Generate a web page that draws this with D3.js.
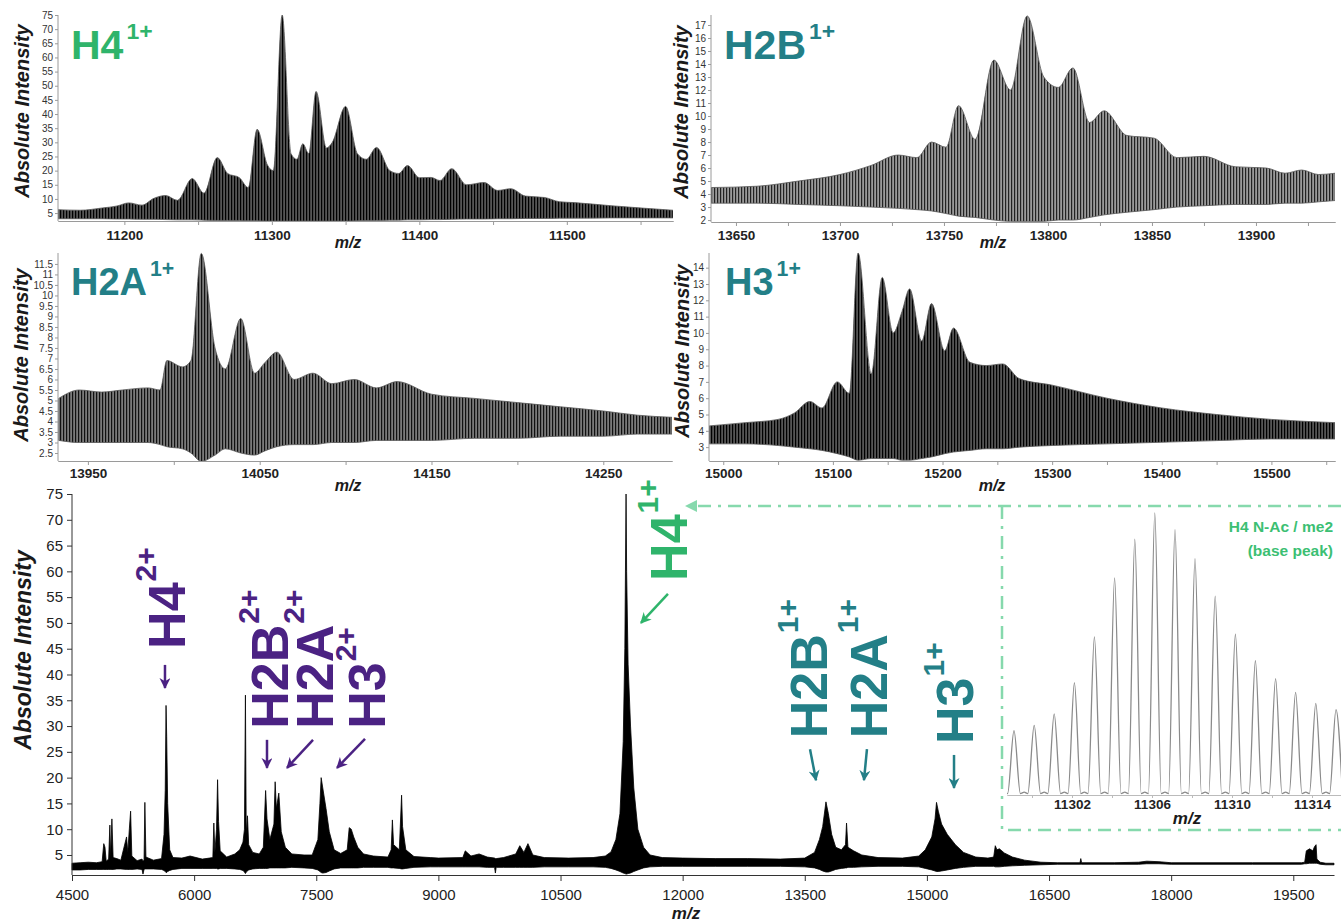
<!DOCTYPE html>
<html>
<head>
<meta charset="utf-8">
<script src="https://cdnjs.cloudflare.com/ajax/libs/d3/7.8.5/d3.min.js"></script>
<style>
  body { margin: 0; background: #fff; }
  text { font-family: "Liberation Sans", Arial, sans-serif; }
</style>
</head>
<body>
<script>
// ---- data: spectrum envelopes [m/z, upper intensity, lower intensity] ----
var h4Env = [
  [11155,6.2,3.0],[11170,6.0,3.0],[11185,6.8,3.0],[11195,7.5,2.9],[11203,8.6,2.9],[11212,7.8,2.8],
  [11220,10.2,2.8],[11228,11.2,2.7],[11236,9.5,2.6],[11246,17.2,2.6],[11254,12.0,2.5],[11263,24.6,2.4],
  [11270,19,2.4],[11278,17.5,2.4],[11284,14,2.3],[11290,34.6,2.3],[11297,22,2.2],[11301,20,2.2],
  [11307,75,2.2],[11313,26,2.2],[11317,24,2.2],[11321,29.5,2.2],[11325,26,2.2],[11330,48,2.2],
  [11337,28,2.2],[11341,30,2.2],[11350,42.7,2.2],[11358,26,2.3],[11364,24,2.4],[11371,28.2,2.4],
  [11380,20,2.5],[11386,19,2.5],[11392,21.8,2.6],[11400,17.5,2.6],[11408,17.6,2.7],[11414,16.5,2.7],
  [11422,20.7,2.8],[11432,15,2.9],[11444,15.8,2.9],[11453,13,3.0],[11462,13.6,3.0],[11472,11,3.1],
  [11485,10.5,3.1],[11495,9,3.2],[11505,8.7,3.2],[11530,7.6,3.3],[11572,6.0,3.3]
];
var h2bEnv = [
  [13638,4.5,3.3],[13660,4.6,3.3],[13680,5.0,3.2],[13700,5.5,3.1],[13715,6.2,3.0],[13728,7.0,2.9],
  [13737,6.8,2.8],[13744,8.0,2.7],[13751,7.6,2.5],[13757,10.8,2.3],[13765,8.2,2.2],[13774,14.3,2.0],
  [13782,12,1.9],[13790,17.7,1.9],[13798,13,1.9],[13805,12.2,2.0],[13812,13.7,2.0],[13820,9.5,2.2],
  [13827,10.4,2.4],[13838,8.5,2.6],[13851,8.3,2.8],[13862,6.8,3.0],[13875,6.9,3.1],[13890,6.1,3.2],
  [13905,6.0,3.2],[13914,5.6,3.3],[13922,5.85,3.3],[13930,5.5,3.4],[13938,5.6,3.5]
];
var h2aEnv = [
  [13933,5.1,3.1],[13945,5.5,3.0],[13958,5.4,3.0],[13970,5.5,3.0],[13985,5.6,3.0],[13992,5.5,2.9],
  [13996,6.9,2.8],[14005,6.6,2.7],[14010,6.9,2.5],[14016,12.0,2.1],[14024,7.5,2.4],[14030,6.5,2.7],
  [14039,8.9,2.5],[14047,6.3,2.4],[14053,6.8,2.6],[14060,7.3,2.8],[14070,6.0,2.9],[14081,6.3,2.9],
  [14092,5.8,3.0],[14105,6.0,3.0],[14118,5.6,3.1],[14130,5.9,3.1],[14150,5.3,3.1],[14175,5.1,3.2],
  [14200,4.9,3.2],[14225,4.7,3.3],[14250,4.5,3.3],[14270,4.3,3.4],[14290,4.2,3.4]
];
var h3Env = [
  [14987,4.3,3.2],[15020,4.5,3.2],[15050,4.7,3.1],[15065,5.1,3.0],[15079,5.8,2.9],[15090,5.4,2.8],
  [15104,7.0,2.6],[15115,6.3,2.4],[15123,14.9,2.2],[15135,7.5,2.3],[15145,13.4,2.3],[15155,10,2.3],
  [15163,11.3,2.2],[15170,12.7,2.2],[15181,9.5,2.3],[15190,11.8,2.4],[15202,8.9,2.6],[15210,10.3,2.7],
  [15225,8.2,2.8],[15240,8.0,2.9],[15255,8.1,2.9],[15270,7.2,3.0],[15300,6.8,3.1],[15350,6.0,3.2],
  [15400,5.4,3.3],[15450,5.0,3.4],[15500,4.7,3.5],[15558,4.5,3.5]
];
var mainEnv = [
  [4500,3.4,2.1],[4600,3.5,2.1],[4700,3.6,2.2],[4800,3.5,2.2],[4870,3.7,2.2],[4890,7.2,2.2],[4905,6.5,2.2],
  [4920,3.8,2.2],[4950,4.2,2.2],[4965,10.8,2.2],[4975,4.5,2.2],[4990,12,2.2],[5005,4.5,2.2],[5050,4.3,2.3],
  [5100,4.0,2.3],[5170,8.5,2.2],[5185,5.5,2.2],[5205,10.2,2.2],[5220,13.5,2.2],[5235,4.8,2.2],[5300,3.9,2.3],
  [5360,4.2,2.2],[5372,3.8,1.3],[5385,4.0,2.2],[5395,15.2,2.3],[5408,4.6,2.3],[5500,4.0,2.3],[5600,4.3,2.2],
  [5630,9,2.0],[5645,17.5,1.8],[5655,34,1.6],[5663,28,1.6],[5675,15,1.8],[5700,6,2.0],[5740,4.5,2.2],
  [5850,4.4,2.4],[5950,4.8,2.4],[6100,4.2,2.4],[6230,4.5,2.4],[6242,11.2,2.4],[6255,5.5,2.4],[6275,10,2.4],
  [6288,19.6,2.3],[6300,11.5,2.3],[6320,5.8,2.4],[6400,4.6,2.4],[6500,5.2,2.3],[6560,6,2.2],[6600,7.5,2.0],
  [6618,10,1.7],[6630,36,1.4],[6640,9,1.7],[6655,12.6,1.9],[6670,7,2.1],[6720,5.5,2.3],[6800,5.2,2.4],
  [6850,6.5,2.4],[6878,17.5,2.4],[6895,12,2.4],[6930,8,2.5],[6980,11,2.5],[6995,19.2,2.5],[7010,14,2.5],
  [7040,17,2.5],[7070,9.5,2.5],[7120,6.5,2.5],[7200,5.2,2.6],[7350,5.0,2.5],[7450,5.0,2.4],[7520,8,2.1],
  [7545,15,1.8],[7560,20,1.6],[7580,18,1.5],[7620,14,1.6],[7660,9.5,1.9],[7720,6,2.3],[7800,5.3,2.5],
  [7880,6,2.5],[7905,10.3,2.5],[7930,10,2.5],[7960,8.5,2.5],[8010,6.5,2.5],[8080,5.2,2.6],[8200,4.8,2.6],
  [8380,4.6,2.6],[8420,6,2.5],[8435,11.8,2.5],[8450,7,2.5],[8520,6,2.4],[8548,16.6,2.3],[8560,10.5,2.3],
  [8600,6,2.4],[8700,4.7,2.6],[8900,4.5,2.7],[9000,4.4,2.7],[9300,4.5,2.7],[9330,5.8,2.7],[9400,4.8,2.7],
  [9500,5.2,2.7],[9600,4.6,2.6],[9690,4.4,2.6],[9700,4.3,1.5],[9710,4.3,2.6],[9800,4.5,2.6],[9950,5.2,2.6],
  [10000,6.8,2.6],[10050,5.5,2.6],[10100,7.2,2.6],[10160,5,2.6],[10300,4.5,2.7],[10600,4.4,2.7],
  [10900,4.5,2.7],[11050,4.8,2.6],[11120,5.6,2.4],[11180,8,2.1],[11230,13,1.8],[11270,27,1.5],[11290,45,1.4],
  [11305,75,1.3],[11312,60,1.3],[11330,42,1.4],[11360,30,1.5],[11400,18,1.8],[11450,10,2.1],[11520,6.5,2.5],
  [11600,5,2.7],[11750,4.5,2.8],[12000,4.4,2.8],[12400,4.3,2.8],[12800,4.3,2.8],[13200,4.2,2.8],
  [13500,4.4,2.7],[13620,5.5,2.5],[13680,8,2.2],[13720,10.5,1.9],[13760,15.3,1.7],[13790,13,1.7],
  [13830,9,1.9],[13880,6.5,2.2],[13950,6,2.4],[14000,7,2.5],[14013,11.2,2.5],[14030,6.5,2.6],[14100,5.8,2.6],
  [14200,5,2.7],[14400,4.5,2.8],[14700,4.4,2.8],[14900,4.8,2.7],[14980,6,2.4],[15060,8.5,2.1],[15100,12,1.9],
  [15118,15.2,1.8],[15140,13.5,1.8],[15180,11,1.9],[15250,9,2.1],[15350,7,2.4],[15450,5.5,2.6],[15600,4.6,2.8],
  [15750,4.4,2.8],[15820,4.6,2.8],[15840,6.8,2.7],[15860,6,2.7],[15890,6.2,2.7],[15950,5.4,2.8],[16050,4.6,2.9],
  [16200,4.0,3.0],[16400,3.6,3.1],[16600,3.5,3.2],[16880,3.5,3.2],[16890,4.3,3.2],[16900,3.5,3.2],
  [17300,3.5,3.2],[17600,3.6,3.2],[17700,3.8,3.3],[17850,3.7,3.3],[18000,3.5,3.2],[19000,3.5,3.2],
  [19600,3.5,3.2],[19640,3.6,3.3],[19660,5.8,3.3],[19700,6.2,3.4],[19740,5.8,3.4],[19760,6.6,3.4],
  [19780,7.0,3.4],[19790,4.2,3.4],[19830,3.6,3.2],[19900,3.4,3.1],[20000,3.4,3.1]
];
// isotope peaks of the H4 base peak (inset)
var isoMz = [11299.10,11300.11,11301.11,11302.12,11303.12,11304.13,11305.14,11306.14,11307.15,
             11308.15,11309.16,11310.17,11311.17,11312.18,11313.18,11314.19,11315.20];
var isoInt = [22.8,24.7,28.8,39.8,56.1,77.0,90.7,100,94.1,83.8,70.5,57.0,47.6,41.3,36.4,32.5,30.3];

// tick values
var mainXTicks = [4500,6000,7500,9000,10500,12000,13500,15000,16500,18000,19500];
var mainYTicks = [5,10,15,20,25,30,35,40,45,50,55,60,65,70,75];
var h4YTicks = mainYTicks;
var h4XTicks = [11200,11300,11400,11500];
var h4XMinor = [11250,11350,11450,11550];
var h2bYTicks = [2,3,4,5,6,7,8,9,10,11,12,13,14,15,16,17];
var h2bXTicks = [13650,13700,13750,13800,13850,13900];
var h2bXMinor = [13675,13725,13775,13825,13875,13925];
var h2aYTicks = [2.5,3,3.5,4,4.5,5,5.5,6,6.5,7,7.5,8,8.5,9,9.5,10,10.5,11,11.5];
var h2aXTicks = [13950,14050,14150,14250];
var h2aXMinor = [14000,14100,14200];
var h3YTicks = [3,4,5,6,7,8,9,10,11,12,13,14];
var h3XTicks = [15000,15100,15200,15300,15400,15500];
var h3XMinor = [15050,15150,15250,15350,15450,15550];
var isoXTicks = [11302,11306,11310,11314];
var isoXMinor = [11300,11304,11308,11312];

// peak annotations in the overview: tip at (m/z, intensity)
var peakLabels = [
  {name:"H4",  sup:"2+", mz:5642,  val:37.4, tail:[0,-23],  lab:[20,-36], color:"#4b2283"},
  {name:"H2B", sup:"2+", mz:6895,  val:21.9, tail:[0,-28],  lab:[21,-36], color:"#4b2283"},
  {name:"H2A", sup:"2+", mz:7141,  val:21.9, tail:[26,-28], lab:[46,-36], color:"#4b2283"},
  {name:"H3",  sup:"2+", mz:7755,  val:21.9, tail:[28,-29], lab:[48,-36], color:"#4b2283"},
  {name:"H4",  sup:"1+", mz:11488, val:50.0, tail:[27,-29], lab:[46,-39], color:"#2fb46b"},
  {name:"H2B", sup:"1+", mz:13638, val:19.5, tail:[-6,-31], lab:[11,-39], color:"#237f87"},
  {name:"H2A", sup:"1+", mz:14227, val:19.5, tail:[3,-31],  lab:[23,-39], color:"#237f87"},
  {name:"H3",  sup:"1+", mz:15333, val:18.0, tail:[0,-33],  lab:[19,-41], color:"#237f87"}
];

var svg = d3.select("body").append("svg").attr("width", 1341).attr("height", 922);
var defs = svg.append("defs");

// striped fills to imitate the dense isotope oscillation
function stripes(id, dark, light) {
  var p = defs.append("pattern").attr("id", id).attr("patternUnits", "userSpaceOnUse")
    .attr("width", 3).attr("height", 10);
  p.append("rect").attr("width", 3).attr("height", 10).attr("fill", light);
  p.append("rect").attr("width", 1.2).attr("height", 10).attr("fill", dark);
}
stripes("stripeDark", "#000", "#555");
stripes("stripeMid", "#111", "#7a7a7a");
stripes("stripeLight", "#222", "#9a9a9a");

["#4b2283", "#2fb46b", "#237f87"].forEach(function(c, i) {
  defs.append("marker").attr("id", "arr" + i).attr("viewBox", "0 0 10 10")
    .attr("refX", 9).attr("refY", 5).attr("markerWidth", 11).attr("markerHeight", 11)
    .attr("markerUnits", "userSpaceOnUse").attr("orient", "auto")
    .append("path").attr("d", "M0,0 L10,5 L0,10 L3,5 z").attr("fill", c);
});
var arrColor = {"#4b2283":0, "#2fb46b":1, "#237f87":2};

function styleAxis(g, color, size, fill, bold) {
  g.select(".domain").attr("stroke", color);
  g.selectAll(".tick line").attr("stroke", color);
  g.selectAll(".tick text").attr("font-size", size).attr("fill", fill)
    .attr("font-family", "\"Liberation Sans\", Arial, sans-serif")
    .attr("font-weight", bold ? "bold" : "normal");
}

function yTitle(x, y, size) {
  svg.append("text").attr("transform", "translate(" + x + "," + y + ") rotate(-90)")
    .attr("text-anchor", "middle").attr("font-size", size).attr("font-weight", "bold")
    .attr("font-style", "italic").attr("fill", "#1a1a1a").text("Absolute Intensity");
}
function mzLabel(x, y, size) {
  svg.append("text").attr("x", x).attr("y", y).attr("text-anchor", "middle")
    .attr("font-size", size).attr("font-weight", "bold").attr("font-style", "italic")
    .attr("fill", "#1a1a1a").text("m/z");
}

// ---- zoomed panels ----
var panels = [
  {data:h4Env, left:58, right:673, top:15, bottom:221, xDom:[11155,11572], yDom:[2.2,75],
   yTicks:h4YTicks, xTicks:h4XTicks, xMinor:h4XMinor, pad:5, fill:"stripeDark",
   title:"H4", color:"#2fb46b", tx:71, ty:59, ts:41, yt:[29,111], mz:[348,248]},
  {data:h2bEnv, left:711, right:1335, top:15, bottom:222, xDom:[13638,13938], yDom:[1.85,17.77],
   yTicks:h2bYTicks, xTicks:h2bXTicks, xMinor:h2bXMinor, pad:4, fill:"stripeLight",
   title:"H2B", color:"#237f87", tx:724, ty:59, ts:41, yt:[688,112], mz:[993,248]},
  {data:h2aEnv, left:58, right:672, top:253, bottom:461, xDom:[13932.6,14290], yDom:[2.12,12.02],
   yTicks:h2aYTicks, xTicks:h2aXTicks, xMinor:h2aXMinor, pad:3, fill:"stripeMid",
   title:"H2A", color:"#237f87", tx:71, ty:295, ts:38, yt:[28,355], mz:[348,491]},
  {data:h3Env, left:709, right:1335, top:253, bottom:461, xDom:[14987,15558], yDom:[2.15,14.9],
   yTicks:h3YTicks, xTicks:h3XTicks, xMinor:h3XMinor, pad:3, fill:"stripeDark",
   title:"H3", color:"#237f87", tx:725, ty:295, ts:38, yt:[689,351], mz:[992,491]}
];

panels.forEach(function(p, i) {
  var x = d3.scaleLinear().domain(p.xDom).range([p.left, p.right]);
  var y = d3.scaleLinear().domain(p.yDom).range([p.bottom, p.top]);
  var clipId = "clip" + i;
  defs.append("clipPath").attr("id", clipId).append("rect")
    .attr("x", p.left).attr("y", p.top - 2).attr("width", p.right - p.left).attr("height", p.bottom - p.top + 2);

  var area = d3.area().x(function(d){ return x(d[0]); })
    .y0(function(d){ return y(d[2]); }).y1(function(d){ return y(d[1]); })
    .curve(d3.curveMonotoneX);
  svg.append("path").datum(p.data).attr("clip-path", "url(#" + clipId + ")")
    .attr("d", area).attr("fill", "url(#" + p.fill + ")")
    .attr("stroke", "#555").attr("stroke-width", 0.8);

  var gy = svg.append("g").attr("transform", "translate(" + p.left + ",0)")
    .call(d3.axisLeft(y).tickValues(p.yTicks).tickSize(3).tickSizeOuter(0).tickPadding(2)
      .tickFormat(function(d){ return String(d); }));
  styleAxis(gy, "#9a9a9a", 10, "#333", false);
  gy.select(".domain").attr("d", "M0," + p.bottom + "V" + p.top);

  var gxm = svg.append("g").attr("transform", "translate(0," + p.bottom + ")")
    .call(d3.axisBottom(x).tickValues(p.xMinor).tickSize(4).tickSizeOuter(0).tickFormat(""));
  styleAxis(gxm, "#9a9a9a", 10, "#333", false);
  var gx = svg.append("g").attr("transform", "translate(0," + p.bottom + ")")
    .call(d3.axisBottom(x).tickValues(p.xTicks).tickSize(4).tickSizeOuter(0).tickPadding(p.pad)
      .tickFormat(function(d){ return String(d); }));
  styleAxis(gx, "#9a9a9a", 13.5, "#222", true);

  var t = svg.append("text").attr("x", p.tx).attr("y", p.ty).attr("font-weight", "bold").attr("fill", p.color);
  t.append("tspan").attr("font-size", p.ts).text(p.title);
  t.append("tspan").attr("font-size", p.ts * 0.56).attr("dy", -p.ts * 0.5).attr("dx", 3).text("1+");

  yTitle(p.yt[0], p.yt[1], 20);
  mzLabel(p.mz[0], p.mz[1], 16);
});

// ---- overview spectrum ----
var mx = d3.scaleLinear().domain([4500, 20000]).range([72, 1334]);
var my = d3.scaleLinear().domain([1.12, 75]).range([875, 494]);

var mainArea = d3.area().x(function(d){ return mx(d[0]); })
  .y0(function(d){ return my(d[2]); }).y1(function(d){ return my(d[1]); });
svg.append("path").datum(mainEnv).attr("d", mainArea)
  .attr("fill", "#000").attr("stroke", "#000").attr("stroke-width", 0.8);

var mgy = svg.append("g").attr("transform", "translate(72,0)")
  .call(d3.axisLeft(my).tickValues(mainYTicks).tickSize(5).tickSizeOuter(0).tickPadding(4)
    .tickFormat(function(d){ return String(d); }));
styleAxis(mgy, "#333", 15, "#222", false);
mgy.selectAll(".tick text").attr("font-family", "\"DejaVu Sans\", Verdana, sans-serif");
mgy.select(".domain").attr("d", "M0,875V494");

var mgx = svg.append("g").attr("transform", "translate(0,875)")
  .call(d3.axisBottom(mx).tickValues(mainXTicks).tickSize(6).tickSizeOuter(0).tickPadding(8)
    .tickFormat(function(d){ return String(d); }));
styleAxis(mgx, "#333", 15, "#222", false);
mgx.selectAll(".tick text").attr("font-family", "\"DejaVu Sans\", Verdana, sans-serif");

yTitle(31, 650, 23);
mzLabel(686, 919, 17);

// annotations
peakLabels.forEach(function(d) {
  var tx = mx(d.mz), ty = my(d.val);
  svg.append("line").attr("x1", tx + d.tail[0]).attr("y1", ty + d.tail[1])
    .attr("x2", tx).attr("y2", ty).attr("stroke", d.color).attr("stroke-width", 2.5)
    .attr("marker-end", "url(#arr" + arrColor[d.color] + ")");
  var bx = tx + d.lab[0], by = ty + d.lab[1] - 3;
  var t = svg.append("text").attr("transform", "translate(" + bx + "," + by + ") rotate(-90)")
    .attr("font-weight", "bold").attr("fill", d.color);
  t.append("tspan").attr("font-size", 52).text(d.name);
  t.append("tspan").attr("font-size", 30).attr("dy", -29).attr("dx", 1).text(d.sup);
});

// ---- inset: isotope distribution of the base peak ----
var ix = d3.scaleLinear().domain([11298.75, 11315.45]).range([1007, 1341]);
var iy = d3.scaleLinear().domain([0, 100]).range([795, 513]);
var isoPts = [];
isoMz.forEach(function(m, i) {
  isoPts.push([m - 0.5, 1.0], [m - 0.32, 0.5], [m, isoInt[i]], [m + 0.32, 0.5]);
});
defs.append("clipPath").attr("id", "clipIso").append("rect")
  .attr("x", 1007).attr("y", 505).attr("width", 334).attr("height", 291);
svg.append("path").datum(isoPts).attr("clip-path", "url(#clipIso)")
  .attr("d", d3.line().x(function(d){ return ix(d[0]); }).y(function(d){ return iy(d[1]); })
    .curve(d3.curveMonotoneX))
  .attr("fill", "none").attr("stroke", "#8a8a8a").attr("stroke-width", 1.3);

var igm = svg.append("g").attr("transform", "translate(0,795)")
  .call(d3.axisBottom(ix).tickValues(isoXMinor).tickSize(3).tickSizeOuter(0).tickFormat(""));
styleAxis(igm, "#bbb", 12, "#222", true);
var ig = svg.append("g").attr("transform", "translate(0,795)")
  .call(d3.axisBottom(ix).tickValues(isoXTicks).tickSize(3).tickSizeOuter(0).tickPadding(1)
    .tickFormat(function(d){ return String(d); }));
styleAxis(ig, "#bbb", 13.5, "#222", true);
mzLabel(1187, 824, 17);

var it = svg.append("g").attr("font-weight", "bold").attr("fill", "#3cbf73")
  .attr("font-size", 15.5).attr("text-anchor", "end");
it.append("text").attr("x", 1333).attr("y", 532).text("H4 N-Ac / me2");
it.append("text").attr("x", 1333).attr("y", 556).text("(base peak)");

// dash-dot frame linking the H4 peak to the inset
var dashC = "#86d9ad";
svg.append("path").attr("d", "M1341,506 H694 M1002,506 V830 H1341")
  .attr("fill", "none").attr("stroke", dashC).attr("stroke-width", 2.5)
  .attr("stroke-dasharray", "13,7,3,7");
svg.append("path").attr("d", "M685,506 L697,500 L697,512 z").attr("fill", dashC);
</script>
</body>
</html>
